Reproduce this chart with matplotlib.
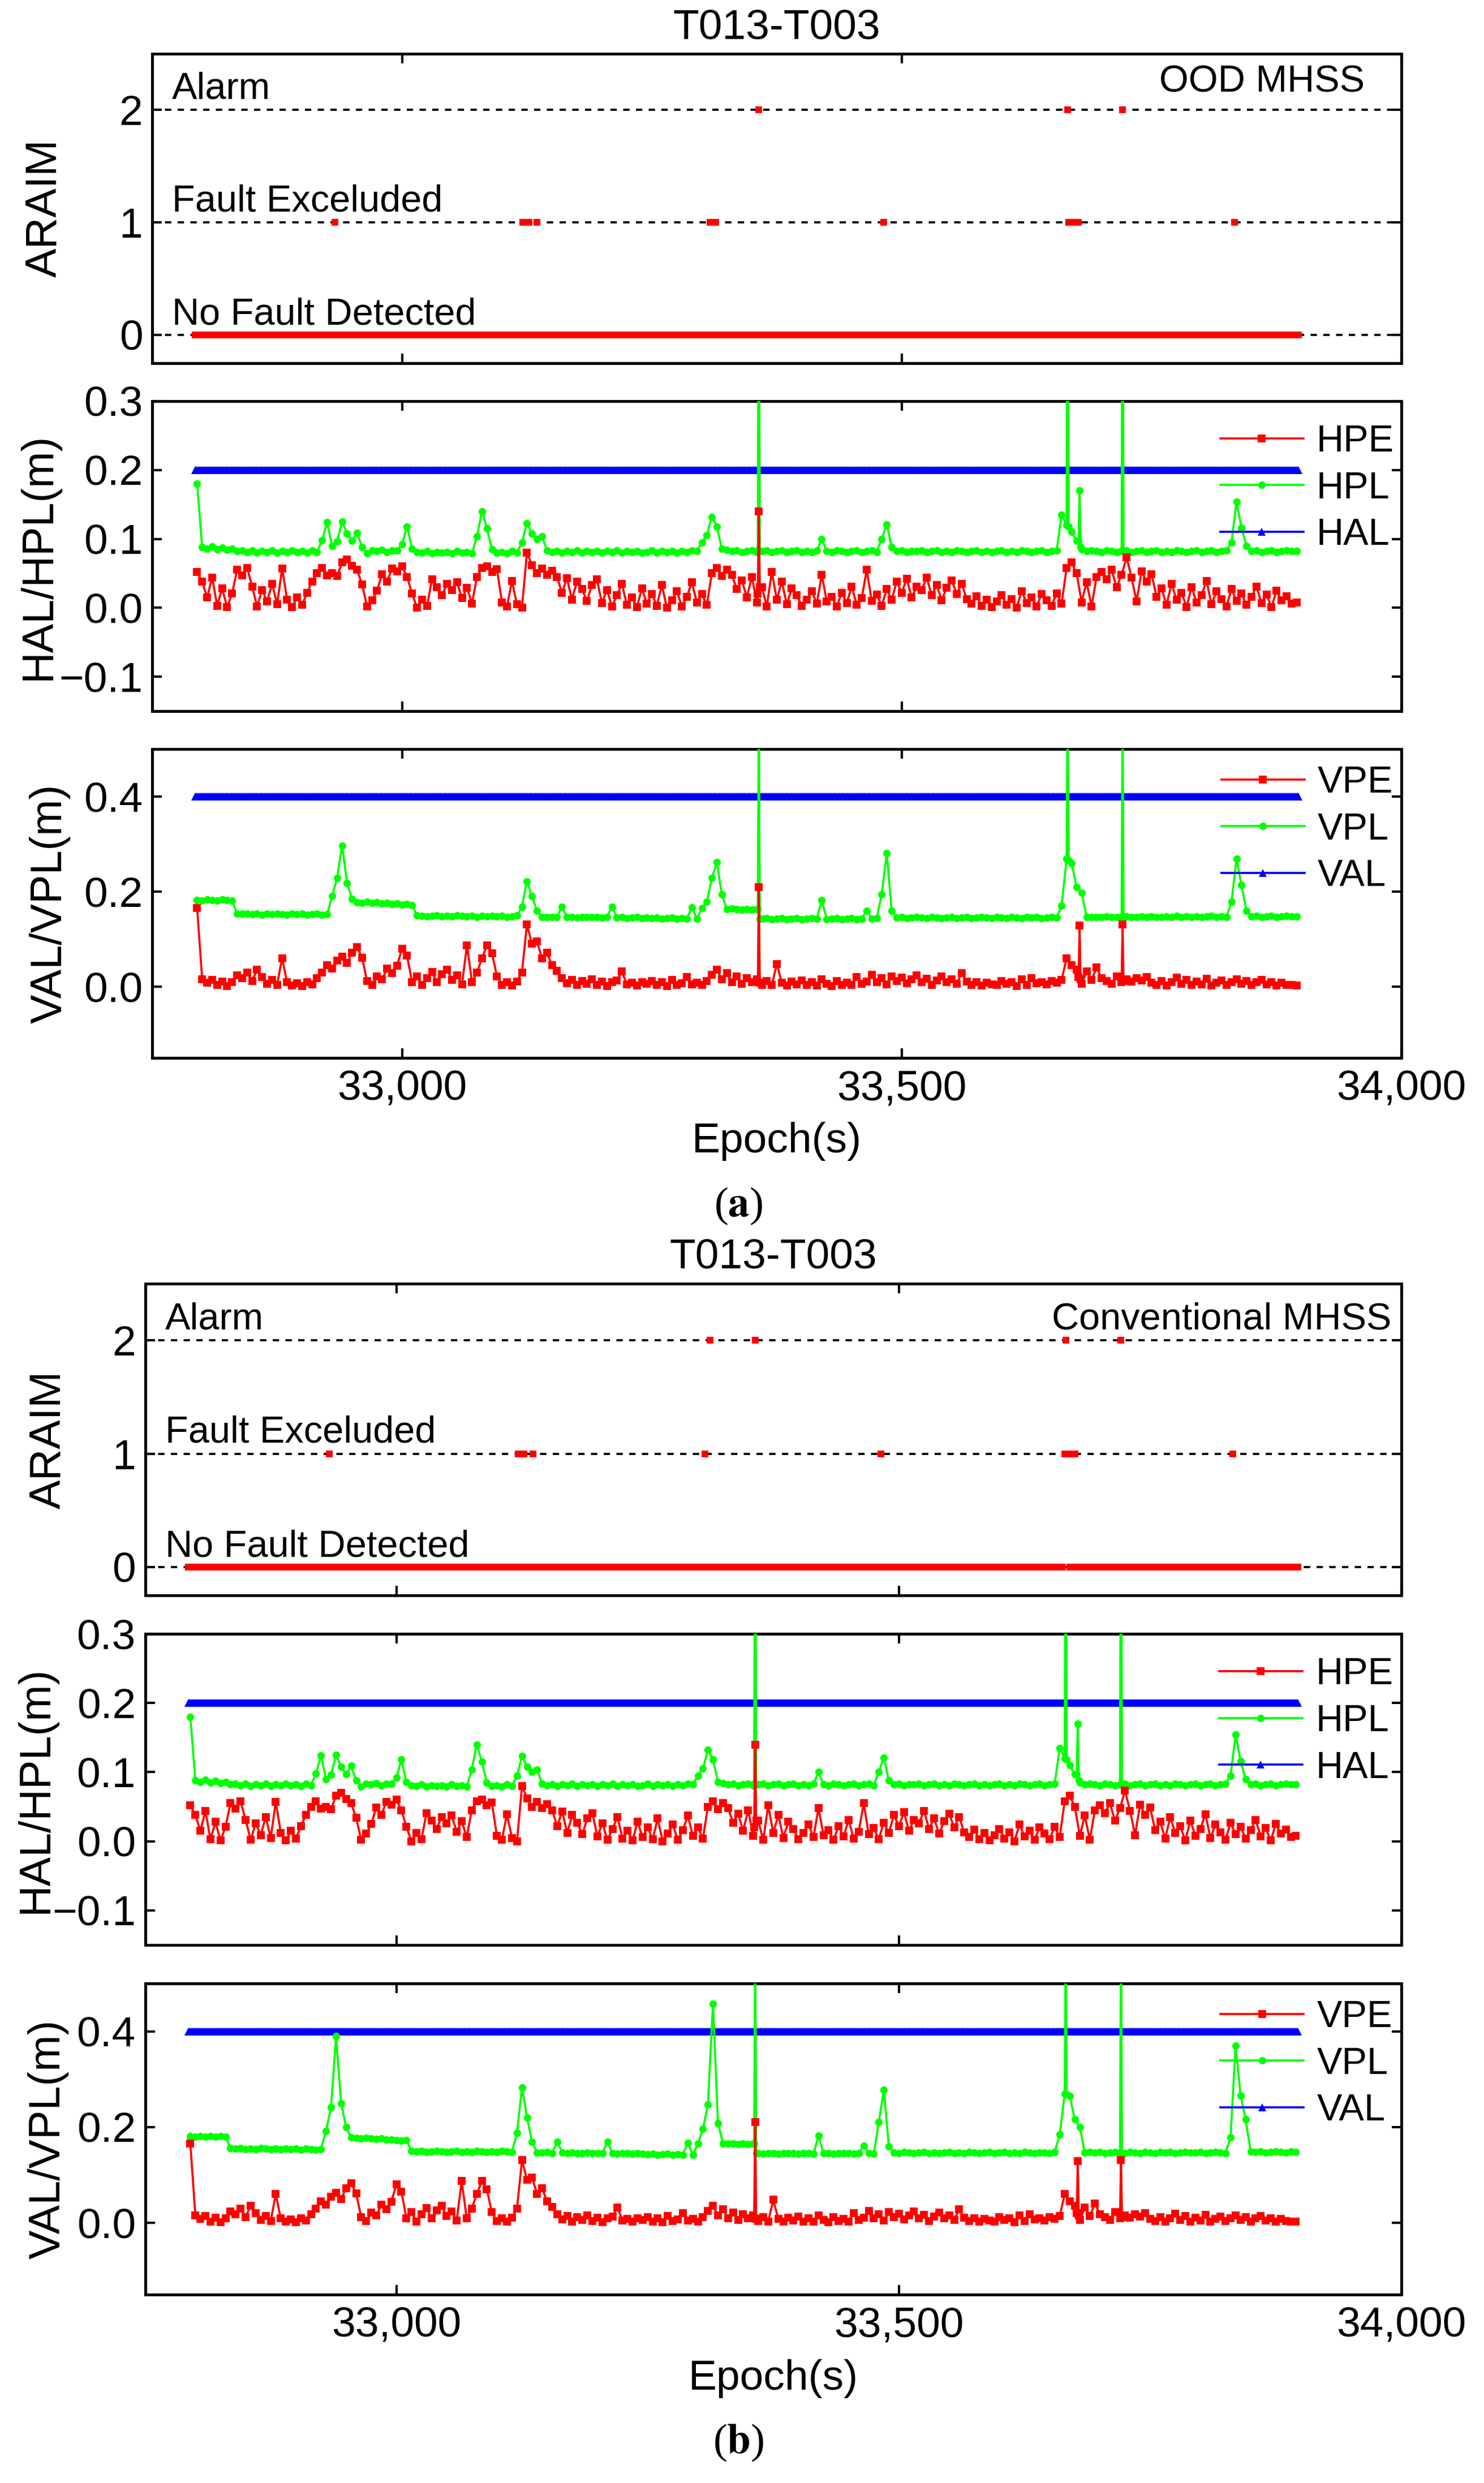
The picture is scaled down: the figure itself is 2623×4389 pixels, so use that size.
import numpy as np
import matplotlib
matplotlib.use('Agg')
from matplotlib import pyplot as plt
from matplotlib.ticker import FuncFormatter

plt.rcParams['font.family'] = ['Liberation Sans', 'DejaVu Sans']
plt.rcParams['mathtext.fontset'] = 'stix'
plt.rcParams['font.size'] = 16

# ---------------- data ----------------
# protection levels / errors sampled every 5 s from 32795 s to 33895 s
epochs = np.arange(32795, 33896, 5)
# ARAIM status is per second
epochs_1s = np.arange(32793, 33898)

hpe = [
    0.052, 0.038, 0.015, 0.044, 0.003, 0.028, 0.001, 0.021, 0.055, 0.047,
    0.058, 0.031, 0.002, 0.026, 0.009, 0.035, 0.005, 0.057, 0.012, 0.001,
    0.015, 0.004, 0.022, 0.038, 0.050, 0.058, 0.047, 0.050, 0.046, 0.066,
    0.070, 0.061, 0.055, 0.034, 0.002, 0.011, 0.025, 0.049, 0.038, 0.057,
    0.053, 0.060, 0.045, 0.021, 0.000, 0.012, 0.003, 0.041, 0.030, 0.018,
    0.035, 0.026, 0.037, 0.014, 0.029, 0.006, 0.045, 0.058, 0.060, 0.052,
    0.056, 0.008, 0.002, 0.039, 0.005, 0.000, 0.080, 0.062, 0.050, 0.057,
    0.048, 0.054, 0.045, 0.022, 0.043, 0.012, 0.038, 0.027, 0.010, 0.033,
    0.041, 0.007, 0.026, 0.002, 0.018, 0.035, 0.004, 0.015, 0.001, 0.028,
    0.006, 0.020, 0.003, 0.033, 0.000, 0.011, 0.024, 0.002, 0.016, 0.037,
    0.008, 0.020, 0.004, 0.050, 0.058, 0.046, 0.055, 0.048, 0.027, 0.040,
    0.015, 0.045, 0.008, 0.030, 0.002, 0.052, 0.012, 0.038, 0.005, 0.028,
    0.018, 0.003, 0.012, 0.024, 0.006, 0.048, 0.009, 0.016, 0.002, 0.022,
    0.007, 0.031, 0.004, 0.014, 0.055, 0.010, 0.019, 0.003, 0.027, 0.012,
    0.038, 0.022, 0.042, 0.015, 0.031, 0.026, 0.044, 0.018, 0.033, 0.011,
    0.029, 0.040, 0.020, 0.035, 0.013, 0.006, 0.017, 0.003, 0.012, 0.001,
    0.009, 0.018, 0.004, 0.013, 0.000, 0.024, 0.007, 0.015, 0.002, 0.020,
    0.011, 0.003, 0.021, 0.006, 0.058, 0.066, 0.050, 0.008, 0.037, 0.002,
    0.045, 0.052, 0.041, 0.055, 0.030, 0.048, 0.073, 0.044, 0.009, 0.053,
    0.038, 0.049, 0.016, 0.028, 0.004, 0.035, 0.012, 0.022, 0.001, 0.030,
    0.008, 0.018, 0.039, 0.005, 0.024, 0.013, 0.002, 0.027, 0.010, 0.021,
    0.004, 0.016, 0.031, 0.007, 0.019, 0.001, 0.025, 0.011, 0.017, 0.006,
    0.008]

hpl = [
    0.180, 0.088, 0.086, 0.089, 0.085, 0.087, 0.084, 0.086, 0.082, 0.083,
    0.081, 0.083, 0.080, 0.082, 0.081, 0.083, 0.080, 0.082, 0.081, 0.083,
    0.081, 0.082, 0.080, 0.083, 0.081, 0.098, 0.124, 0.090, 0.096, 0.125,
    0.108, 0.097, 0.109, 0.088, 0.079, 0.083, 0.082, 0.084, 0.081, 0.083,
    0.083, 0.092, 0.118, 0.086, 0.081, 0.080, 0.082, 0.079, 0.081, 0.080,
    0.081, 0.079, 0.082, 0.080, 0.081, 0.079, 0.104, 0.140, 0.115, 0.085,
    0.080, 0.081, 0.079, 0.082, 0.080, 0.095, 0.123, 0.108, 0.100, 0.104,
    0.083, 0.081, 0.082, 0.080, 0.082, 0.081, 0.083, 0.080, 0.082, 0.081,
    0.082, 0.080, 0.082, 0.081, 0.083, 0.080, 0.082, 0.081, 0.082, 0.080,
    0.081, 0.083, 0.080, 0.082, 0.081, 0.082, 0.080, 0.082, 0.081, 0.083,
    0.082, 0.095, 0.105, 0.132, 0.118, 0.086, 0.084, 0.082, 0.083, 0.081,
    0.082, 0.083, 0.081, 0.082, 0.083, 0.081, 0.082, 0.083, 0.081, 0.082,
    0.083, 0.081, 0.082, 0.081, 0.083, 0.100, 0.082, 0.081, 0.083, 0.082,
    0.081, 0.082, 0.083, 0.081, 0.082, 0.083, 0.081, 0.100, 0.121, 0.088,
    0.082, 0.083, 0.081, 0.082, 0.082, 0.083, 0.081, 0.082, 0.083, 0.081,
    0.082, 0.081, 0.083, 0.082, 0.081, 0.082, 0.083, 0.081, 0.082, 0.081,
    0.082, 0.083, 0.081, 0.082, 0.081, 0.083, 0.082, 0.081, 0.082, 0.083,
    0.081, 0.082, 0.083, 0.135, 0.120, 0.110, 0.097, 0.085, 0.082, 0.083,
    0.082, 0.081, 0.083, 0.082, 0.081, 0.082, 0.083, 0.081, 0.082, 0.083,
    0.081, 0.082, 0.083, 0.081, 0.082, 0.081, 0.083, 0.082, 0.081, 0.082,
    0.083, 0.081, 0.082, 0.083, 0.081, 0.082, 0.083, 0.095, 0.154, 0.116,
    0.090, 0.082, 0.083, 0.081, 0.082, 0.083, 0.081, 0.082, 0.083, 0.082,
    0.082]

vpe = [
    0.165, 0.016, 0.008, 0.014, 0.003, 0.011, 0.001, 0.009, 0.024, 0.018,
    0.030, 0.012, 0.036, 0.020, 0.006, 0.014, 0.004, 0.060, 0.009, 0.002,
    0.007, 0.001, 0.010, 0.005, 0.018, 0.030, 0.045, 0.038, 0.055, 0.063,
    0.050, 0.072, 0.083, 0.061, 0.012, 0.004, 0.021, 0.015, 0.038, 0.028,
    0.044, 0.080, 0.065, 0.010, 0.022, 0.003, 0.018, 0.031, 0.009, 0.026,
    0.036, 0.014, 0.024, 0.005, 0.087, 0.010, 0.030, 0.060, 0.087, 0.070,
    0.022, 0.004, 0.009, 0.002, 0.011, 0.030, 0.131, 0.090, 0.095, 0.060,
    0.072, 0.045, 0.033, 0.018, 0.007, 0.014, 0.003, 0.012, 0.006, 0.015,
    0.004, 0.011, 0.001, 0.009, 0.013, 0.032, 0.005, 0.008, 0.002, 0.010,
    0.006, 0.012, 0.003, 0.009, 0.001, 0.014, 0.004, 0.007, 0.020, 0.005,
    0.008, 0.003, 0.012, 0.025, 0.036, 0.015, 0.028, 0.010, 0.021, 0.006,
    0.018, 0.009, 0.015, 0.004, 0.012, 0.003, 0.048, 0.008, 0.002, 0.011,
    0.005, 0.013, 0.003, 0.009, 0.002, 0.016, 0.006, 0.001, 0.012, 0.004,
    0.008, 0.003, 0.020, 0.006, 0.011, 0.025, 0.009, 0.018, 0.005, 0.022,
    0.012, 0.019, 0.007, 0.015, 0.024, 0.010, 0.017, 0.004, 0.013, 0.021,
    0.009, 0.016, 0.006, 0.028, 0.011, 0.004, 0.010, 0.002, 0.008, 0.005,
    0.003, 0.012, 0.006, 0.009, 0.001, 0.015, 0.004, 0.018, 0.007, 0.010,
    0.005, 0.012, 0.008, 0.014, 0.060, 0.045, 0.036, 0.006, 0.032, 0.014,
    0.040, 0.018, 0.012, 0.006, 0.022, 0.009, 0.015, 0.011, 0.018, 0.013,
    0.020, 0.008, 0.004, 0.012, 0.002, 0.009, 0.019, 0.006, 0.014, 0.003,
    0.011, 0.005, 0.017, 0.002, 0.008, 0.013, 0.004, 0.010, 0.016, 0.006,
    0.012, 0.003, 0.009, 0.014, 0.005, 0.010, 0.002, 0.008, 0.004, 0.003,
    0.002]

vpl_ood = [
    0.182, 0.181, 0.183, 0.182, 0.181, 0.183, 0.182, 0.181, 0.154, 0.153,
    0.154, 0.152, 0.153, 0.151, 0.153, 0.152, 0.154, 0.152, 0.151, 0.153,
    0.152, 0.153, 0.151, 0.152, 0.153, 0.151, 0.152, 0.190, 0.228, 0.297,
    0.218, 0.185, 0.177, 0.176, 0.178, 0.176, 0.177, 0.175, 0.176, 0.174,
    0.175, 0.173, 0.174, 0.172, 0.150, 0.149, 0.148, 0.149, 0.150, 0.148,
    0.149, 0.148, 0.150, 0.149, 0.148, 0.149, 0.147, 0.149, 0.148, 0.149,
    0.148, 0.149, 0.147, 0.148, 0.150, 0.168, 0.222, 0.190, 0.160, 0.147,
    0.147, 0.146, 0.147, 0.168, 0.146, 0.147, 0.145, 0.146, 0.147, 0.146,
    0.146, 0.145, 0.146, 0.168, 0.145, 0.146, 0.144, 0.145, 0.146, 0.144,
    0.145, 0.144, 0.145, 0.143, 0.144, 0.145, 0.143, 0.144, 0.143, 0.167,
    0.143, 0.165, 0.178, 0.228, 0.262, 0.194, 0.163, 0.164, 0.163, 0.162,
    0.163, 0.162, 0.163, 0.143, 0.144, 0.142, 0.143, 0.144, 0.142, 0.143,
    0.144, 0.142, 0.143, 0.144, 0.143, 0.182, 0.142, 0.143, 0.144, 0.142,
    0.143, 0.144, 0.142, 0.143, 0.160, 0.143, 0.144, 0.194, 0.281, 0.160,
    0.145, 0.146, 0.144, 0.145, 0.146, 0.145, 0.144, 0.146, 0.145, 0.144,
    0.145, 0.146, 0.144, 0.145, 0.146, 0.144, 0.145, 0.146, 0.145, 0.144,
    0.146, 0.145, 0.144, 0.146, 0.145, 0.144, 0.146, 0.145, 0.146, 0.144,
    0.145, 0.146, 0.145, 0.170, 0.269, 0.260, 0.210, 0.198, 0.147, 0.146,
    0.147, 0.146, 0.148, 0.147, 0.146, 0.147, 0.148, 0.147, 0.146, 0.148,
    0.147, 0.148, 0.146, 0.147, 0.148, 0.147, 0.149, 0.147, 0.148, 0.147,
    0.148, 0.147, 0.148, 0.149, 0.147, 0.148, 0.147, 0.178, 0.269, 0.214,
    0.159, 0.148, 0.149, 0.147, 0.148, 0.149, 0.147, 0.148, 0.149, 0.148,
    0.148]

vpl_conv = [
    0.181, 0.180, 0.181, 0.180, 0.181, 0.180, 0.181, 0.180, 0.156, 0.155,
    0.156, 0.154, 0.155, 0.154, 0.156, 0.155, 0.154, 0.155, 0.154, 0.155,
    0.154, 0.155, 0.153, 0.155, 0.154, 0.153, 0.154, 0.192, 0.241, 0.390,
    0.250, 0.200, 0.178, 0.177, 0.176, 0.177, 0.176, 0.175, 0.176, 0.174,
    0.174, 0.173, 0.172, 0.173, 0.150, 0.149, 0.150, 0.148, 0.149, 0.150,
    0.149, 0.148, 0.149, 0.150, 0.148, 0.149, 0.148, 0.150, 0.149, 0.148,
    0.149, 0.148, 0.150, 0.149, 0.148, 0.188, 0.283, 0.220, 0.169, 0.147,
    0.147, 0.148, 0.146, 0.169, 0.147, 0.146, 0.147, 0.145, 0.146, 0.147,
    0.146, 0.145, 0.146, 0.169, 0.145, 0.144, 0.146, 0.145, 0.144, 0.145,
    0.144, 0.143, 0.144, 0.142, 0.143, 0.144, 0.142, 0.143, 0.142, 0.167,
    0.142, 0.165, 0.196, 0.247, 0.457, 0.208, 0.166, 0.165, 0.166, 0.164,
    0.165, 0.164, 0.165, 0.145, 0.144, 0.146, 0.145, 0.144, 0.145, 0.146,
    0.145, 0.144, 0.146, 0.145, 0.144, 0.182, 0.145, 0.146, 0.144, 0.145,
    0.146, 0.145, 0.144, 0.146, 0.161, 0.145, 0.144, 0.210, 0.278, 0.160,
    0.147, 0.146, 0.148, 0.147, 0.146, 0.147, 0.148, 0.146, 0.147, 0.146,
    0.147, 0.148, 0.146, 0.147, 0.146, 0.148, 0.147, 0.146, 0.147, 0.148,
    0.146, 0.147, 0.148, 0.146, 0.147, 0.146, 0.148, 0.147, 0.146, 0.147,
    0.147, 0.146, 0.148, 0.184, 0.270, 0.265, 0.216, 0.200, 0.147, 0.148,
    0.147, 0.148, 0.146, 0.147, 0.148, 0.147, 0.146, 0.148, 0.147, 0.146,
    0.148, 0.147, 0.146, 0.148, 0.147, 0.148, 0.146, 0.147, 0.148, 0.147,
    0.147, 0.148, 0.146, 0.147, 0.148, 0.147, 0.146, 0.178, 0.370, 0.266,
    0.216, 0.149, 0.148, 0.149, 0.147, 0.148, 0.149, 0.148, 0.147, 0.149,
    0.148]

hal_value = 0.2
val_value = 0.4

# single-second jumps that fall between the 5 s samples (with the
# neighbouring seconds, so each jump is a thin vertical stroke)
hpl_extra_epochs = [33356, 33357, 33358, 33666, 33667, 33677, 33678, 33679,
                    33721, 33722]
hpl_extra_values = [0.083, 0.6, 0.082, 0.6, 0.118, 0.097, 0.17, 0.088,
                    0.6, 0.082]
hpe_extra_epochs = [33356, 33357, 33358]
hpe_extra_values = [0.020, 0.14, 0.030]
vpe_extra_epochs = [33356, 33357, 33358, 33677, 33678, 33679, 33721, 33722]
vpe_extra_values = [0.010, 0.21, 0.008, 0.020, 0.129, 0.015, 0.131, 0.012]
vpl_ood_extra_epochs = [33356, 33357, 33358, 33666, 33667, 33721, 33722]
vpl_ood_extra_values = [0.163, 0.6, 0.143, 0.6, 0.265, 0.6, 0.147]
vpl_conv_extra_epochs = [33356, 33357, 33358, 33666, 33667, 33721, 33722]
vpl_conv_extra_values = [0.165, 0.6, 0.145, 0.6, 0.268, 0.6, 0.147]

# ARAIM status: (first epoch, last epoch) intervals
excluded_ood = [(32933, 32933), (33121, 33127), (33135, 33135), (33308, 33314),
                (33482, 33482), (33667, 33677), (33833, 33833)]
alarm_ood = [(33357, 33357), (33666, 33666), (33721, 33721)]
excluded_conv = [(32933, 32933), (33121, 33127), (33136, 33136), (33307, 33307),
                 (33482, 33482), (33665, 33675), (33832, 33832)]
alarm_conv = [(33312, 33312), (33357, 33357), (33666, 33666), (33721, 33721)]
nofault_gap = (33664, 33669)

RED, GREEN, BLUE = '#ff0000', '#00ff00', '#0000ff'
W, H = 2623, 4389
TICK_FS = 18
LABEL_FS = 18.5


def merged(x, y, ex, ey):
    xx = np.concatenate([x, ex])
    yy = np.concatenate([np.asarray(y, float), ey])
    order = np.argsort(xx, kind='stable')
    return xx[order], yy[order]


def expand(intervals):
    return np.concatenate([np.arange(a, b + 1) for a, b in intervals])


def rect(l, t, r, b):
    # pixel box of the reference -> figure fraction
    return [l / W, 1 - b / H, (r - l) / W, (b - t) / H]


def style(ax):
    ax.set_xlim(32750, 34000)
    ax.set_xticks([33000, 33500, 34000])
    ax.tick_params(direction='in', top=True, right=True, length=4, width=1.0,
                   labelsize=TICK_FS)
    ax.tick_params(axis='x', pad=5)
    ax.tick_params(axis='y', pad=4)
    for s in ax.spines.values():
        s.set_linewidth(1.2)


def ylabel(ax, text, x):
    ax.set_ylabel(text, fontsize=LABEL_FS)
    ax.yaxis.set_label_coords(x, 0.5)
    ax.yaxis.label.set_va('center')


panels = [
    dict(tag='a', method='OOD MHSS', method_x=33963, method_y=2.16,
         vpl=vpl_ood, vpl_ex=(vpl_ood_extra_epochs, vpl_ood_extra_values),
         excluded=excluded_ood, alarm=alarm_ood, left=269,
         rows=[(95, 641.5), (709, 1257), (1324, 1870)], label_y=2132,
         ylab_x=(-0.086, -0.091, -0.082)),
    dict(tag='b', method='Conventional MHSS', method_x=33990, method_y=2.1,
         vpl=vpl_conv, vpl_ex=(vpl_conv_extra_epochs, vpl_conv_extra_values),
         excluded=excluded_conv, alarm=alarm_conv, left=256.5,
         rows=[(2269, 2820), (2888, 3438), (3506, 4056)], label_y=4318,
         ylab_x=(-0.077, -0.087, -0.077)),
]

fig = plt.figure(figsize=(W / 300, H / 300), dpi=300)

for p in panels:
    l, r = p['left'], 2477
    ax0 = fig.add_axes(rect(l, p['rows'][0][0], r, p['rows'][0][1]))
    ax1 = fig.add_axes(rect(l, p['rows'][1][0], r, p['rows'][1][1]))
    ax2 = fig.add_axes(rect(l, p['rows'][2][0], r, p['rows'][2][1]))

    # ---- ARAIM status ----
    for lev in (0, 1, 2):
        ax0.axhline(lev, color='black', lw=0.9, ls=(0, (3, 3)), zorder=1)
    ok = epochs_1s[(epochs_1s < nofault_gap[0]) | (epochs_1s > nofault_gap[1])]
    ax0.plot(ok, np.zeros(len(ok)), ls='none', marker='s', ms=3.0, mew=0,
             color=RED, zorder=3)
    ex = expand(p['excluded'])
    ax0.plot(ex, np.ones(len(ex)), ls='none', marker='s', ms=3.0, mew=0,
             color=RED, zorder=3)
    al = expand(p['alarm'])
    ax0.plot(al, np.full(len(al), 2), ls='none', marker='s', ms=3.0, mew=0,
             color=RED, zorder=3)
    ax0.set_ylim(-0.25, 2.5)
    ax0.set_yticks([0, 1, 2])
    ax0.text(32770, 2.1, 'Alarm', fontsize=16)
    ax0.text(32770, 1.1, 'Fault Exceluded', fontsize=16)
    ax0.text(32770, 0.09, 'No Fault Detected', fontsize=16)
    ax0.text(p['method_x'], p['method_y'], p['method'], fontsize=16, ha='right')
    ax0.text(0.5, 1.083, 'T013-T003', transform=ax0.transAxes, ha='center',
             va='center', fontsize=TICK_FS)

    # ---- horizontal ----
    x, y = merged(epochs, hpe, hpe_extra_epochs, hpe_extra_values)
    ax1.plot(x, y, color=RED, lw=0.9, marker='s', ms=3.3, mew=0, zorder=4,
             label='HPE')
    x, y = merged(epochs, hpl, hpl_extra_epochs, hpl_extra_values)
    ax1.plot(x, y, color=GREEN, lw=0.9, marker='o', ms=3.2, mew=0, zorder=3,
             label='HPL')
    ax1.plot(epochs_1s, np.full(len(epochs_1s), hal_value), color=BLUE, lw=0.9,
             marker='^', ms=3.4, mew=0, zorder=2, label='HAL')
    ax1.set_ylim(-0.15, 0.3)
    ax1.set_yticks([-0.1, 0.0, 0.1, 0.2, 0.3])
    ax1.yaxis.set_major_formatter(
        FuncFormatter(lambda v, _: f'{v:.1f}'.replace('-', '\u2212')))
    ax1.legend(loc='upper left', bbox_to_anchor=(0.855, 0.925), frameon=False,
               borderpad=0, borderaxespad=0, handlelength=2.2,
               handletextpad=0.35, labelspacing=0.31, fontsize=16)

    # ---- vertical ----
    x, y = merged(epochs, vpe, vpe_extra_epochs, vpe_extra_values)
    ax2.plot(x, y, color=RED, lw=0.9, marker='s', ms=3.3, mew=0, zorder=4,
             label='VPE')
    x, y = merged(epochs, p['vpl'], *p['vpl_ex'])
    ax2.plot(x, y, color=GREEN, lw=0.9, marker='o', ms=3.2, mew=0, zorder=3,
             label='VPL')
    ax2.plot(epochs_1s, np.full(len(epochs_1s), val_value), color=BLUE, lw=0.9,
             marker='^', ms=3.4, mew=0, zorder=2, label='VAL')
    ax2.set_ylim(-0.15, 0.5)
    ax2.set_yticks([0.0, 0.2, 0.4])
    ax2.yaxis.set_major_formatter(FuncFormatter(lambda v, _: f'{v:.1f}'))
    ax2.legend(loc='upper left', bbox_to_anchor=(0.856, 0.947), frameon=False,
               borderpad=0, borderaxespad=0, handlelength=2.2,
               handletextpad=0.35, labelspacing=0.31, fontsize=16)

    for ax in (ax0, ax1, ax2):
        style(ax)
    ax0.tick_params(labelbottom=False)
    ax1.tick_params(labelbottom=False)
    ax2.xaxis.set_major_formatter(FuncFormatter(lambda v, _: f'{v:,.0f}'))
    ax2.set_xlabel('Epoch(s)', fontsize=TICK_FS)
    ax2.xaxis.set_label_coords(0.5, -0.27)
    ax2.xaxis.label.set_va('center')

    ylabel(ax0, 'ARAIM', p['ylab_x'][0])
    ylabel(ax1, 'HAL/HPL(m)', p['ylab_x'][1])
    ylabel(ax2, 'VAL/VPL(m)', p['ylab_x'][2])

    fig.text(1305 / W, 1 - p['label_y'] / H, '($\\mathbf{' + p['tag'] + '}$)',
             ha='center', va='center', fontsize=18, family='Liberation Serif')

fig.savefig('out.png', dpi=300)
